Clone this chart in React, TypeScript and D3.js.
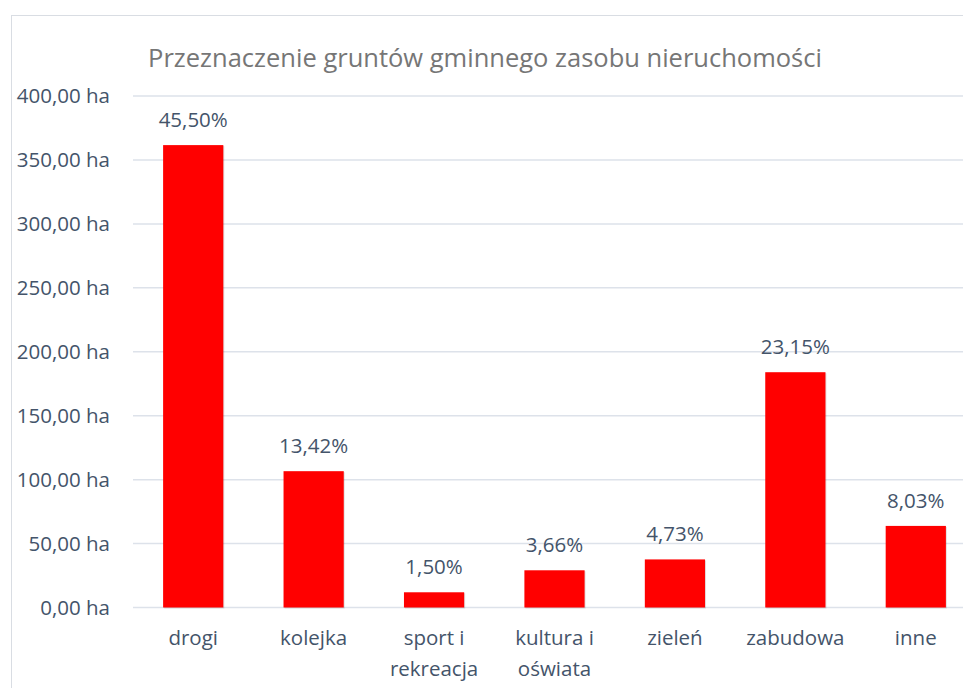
import * as d3 from 'd3'

const width = 963
const height = 688

const categories = ['drogi', 'kolejka', 'sport i\nrekreacja', 'kultura i\noświata', 'zieleń', 'zabudowa', 'inne']
const areaHa = [361.6, 106.6, 11.9, 29.1, 37.6, 184.0, 63.8]
const shareLabels = ['45,50%', '13,42%', '1,50%', '3,66%', '4,73%', '23,15%', '8,03%']
const yTicks = [0, 50, 100, 150, 200, 250, 300, 350, 400]

const margin = { left: 133, right: -13, top: 96, bottom: 80.5 }
const font = 'Open Sans, Noto Sans, sans-serif'
const textColor = '#44546a'
const fs = 20.5

const x = d3.scaleBand<number>()
  .domain(d3.range(categories.length))
  .range([margin.left, width - margin.right])
  .paddingInner(0.5)
  .paddingOuter(0.25)

const y = d3.scaleLinear()
  .domain([0, 400])
  .range([height - margin.bottom, margin.top])

const fmt = (v: number) => v.toFixed(2).replace('.', ',') + ' ha'

const App = () => {
  return (
    <svg width={width} height={height} style={{ position: 'absolute', left: 0, top: 0, background: '#fff' }}>
      <rect x={11.5} y={15.5} width={width} height={height} fill="none" stroke="#d9dde3" />
      <text x={485} y={67} textAnchor="middle" fontFamily={font} fontSize={25.5} fill="#767676">
        Przeznaczenie gruntów gminnego zasobu nieruchomości
      </text>
      {yTicks.map(t => (
        <g key={t}>
          <line x1={margin.left} x2={width} y1={y(t)} y2={y(t)} stroke="#dde2ea" strokeWidth={1.5} />
          <text x={110} y={y(t)} dy="0.35em" textAnchor="end" fontFamily={font} fontSize={fs} fill={textColor}>
            {fmt(t)}
          </text>
        </g>
      ))}
      {areaHa.map((v, i) => {
        const bx = x(i)!
        const cx = bx + x.bandwidth() / 2
        return (
          <g key={i}>
            <rect x={bx + 1} y={y(v) + 1} width={x.bandwidth()} height={y(0) - y(v)} fill="#000" opacity={0.12} />
            <rect x={bx} y={y(v)} width={x.bandwidth()} height={y(0) - y(v)} fill="#ff0000" />
            <text x={cx} y={y(v) - 18} textAnchor="middle" fontFamily={font} fontSize={fs} fill={textColor}>
              {shareLabels[i]}
            </text>
            {categories[i].split('\n').map((line, j) => (
              <text key={j} x={cx} y={645 + j * 31} textAnchor="middle" fontFamily={font} fontSize={fs} fill={textColor}>
                {line}
              </text>
            ))}
          </g>
        )
      })}
    </svg>
  )
}

export default App
